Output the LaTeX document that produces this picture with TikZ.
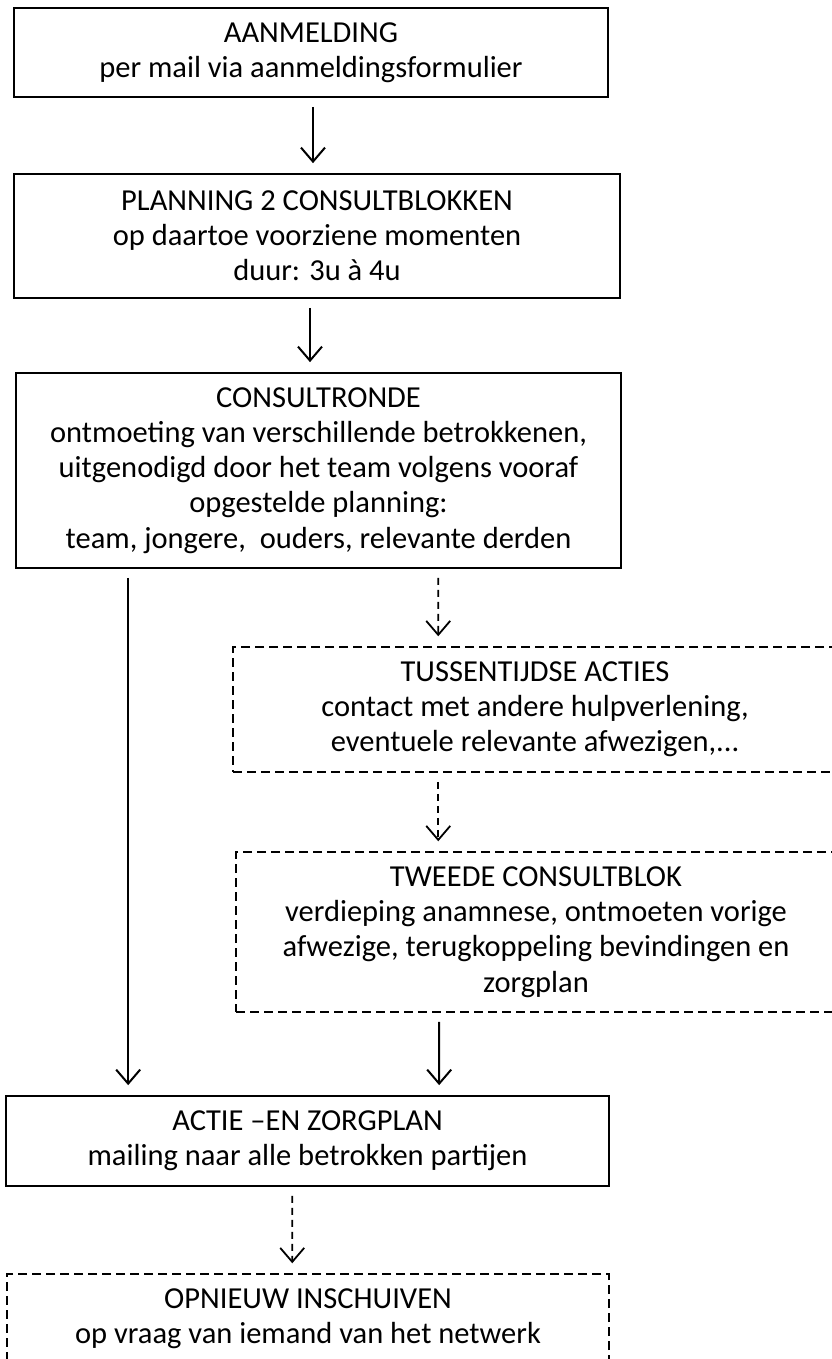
\documentclass[tikz,border=0pt]{standalone}
\usepackage{fontspec}
\setmainfont{Carlito}
\usetikzlibrary{arrows,arrows.meta,positioning}

\begin{document}
\begin{tikzpicture}[x=1pt,y=-1pt,
	box/.style={draw,line width=1.7pt,align=center,inner sep=0pt,font=\fontsize{30.5}{35.2}\selectfont},
	dbox/.style={box,line width=1.5pt,dash pattern=on 9pt off 5pt},
	arr/.style={line width=2pt,-{Straight Barb[length=14pt,width=24pt]},shorten <=9pt,shorten >=10pt},
	darr/.style={arr,line width=1.8pt,dash pattern=on 7pt off 5pt}]
	\useasboundingbox (0,0) rectangle (831,1359);
	
	\foreach \nm/\st/\cx/\cy/\w/\h/\txt in {
		aanm/box/311/52.5/594/89/{AANMELDING\\per mail via aanmeldingsformulier},
		plan/box/317/236/606/124/{PLANNING 2 CONSULTBLOKKEN\\op daartoe voorziene momenten\\duur: 3u à 4u},
		consult/box/318.5/470.5/605/195/{CONSULTRONDE\\ontmoeting van verschillende betrokkenen,\\uitgenodigd door het team volgens vooraf\\opgestelde planning:\\team, jongere, \ ouders, relevante derden},
		tussen/dbox/535/709.5/604/125/{TUSSENTIJDSE ACTIES\\contact met andere hulpverlening,\\eventuele relevante afwezigen,...},
		tweede/dbox/536/932/600/160/{TWEEDE CONSULTBLOK\\verdieping anamnese, ontmoeten vorige\\afwezige, terugkoppeling bevindingen en\\zorgplan},
		actie/box/307.5/1141/603/90/{ACTIE –EN ZORGPLAN\\mailing naar alle betrokken partijen},
		opnieuw/dbox/308/1319/602/90/{OPNIEUW INSCHUIVEN\\op vraag van iemand van het netwerk}}
		\node[\st,minimum width=\w pt,minimum height=\h pt] (\nm) at (\cx,\cy) {\txt};
	
	\path[arr]
		([xshift=2pt]aanm.south) edge ([xshift=-4pt]plan.north)
		([xshift=-7pt]plan.south) edge ([xshift=-8.5pt]consult.north)
		([xshift=113pt]consult.south west) edge ([xshift=123pt]actie.north west)
		([xshift=204pt]tweede.south west) edge ([xshift=434pt]actie.north west);
	
	\path[darr]
		([xshift=423pt]consult.south west) edge ([xshift=206pt]tussen.north west)
		([xshift=206pt]tussen.south west) edge ([xshift=203pt]tweede.north west)
		([xshift=287pt]actie.south west) edge ([xshift=286pt]opnieuw.north west);
\end{tikzpicture}
\end{document}
